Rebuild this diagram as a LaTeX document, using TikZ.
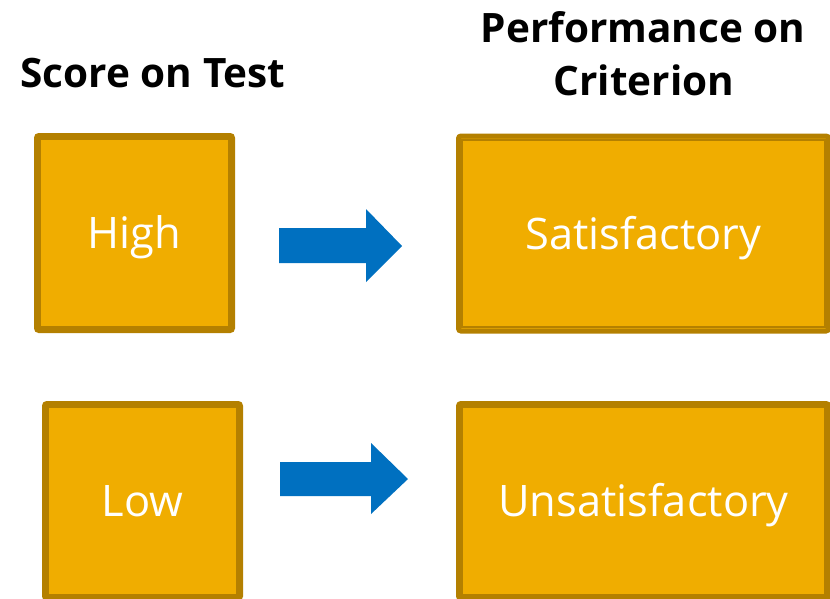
\documentclass[tikz,border=0pt]{standalone}
\usepackage{fontspec}
\setmainfont{Open Sans}
\usetikzlibrary{calc}
\definecolor{gfill}{RGB}{240,173,0}
\definecolor{gdark}{RGB}{180,128,0}
\definecolor{ablue}{RGB}{0,112,192}
\tikzset{
  gbox/.style={draw=gdark, line width=5pt, fill=gfill, rounded corners=2.5pt,
    inner sep=0pt, text=white, font=\fontsize{43.4}{50}\selectfont,
    text height=31pt, text depth=0pt, minimum height=195pt},
  innerline/.style={draw=gdark, line width=1.8pt},
  title/.style={anchor=base, inner sep=0pt, font=\fontsize{40.5}{46}\selectfont\bfseries, text=black},
  blockarrow/.style={fill=ablue, draw=none}
}
\begin{document}
\begin{tikzpicture}[x=1pt,y=-1pt]
\useasboundingbox[fill=white] (0,0) rectangle (830,598);
% titles
\node[title] (t1) at (153,87) {Score on Test};
\node[title] (t2a) at (643,42) {Performance on};
\node[title] (t2b) at (644,95) {Criterion};
% boxes
\node[gbox, minimum width=196pt] (hi) at (134.5,233) {High};
\node[gbox, minimum width=370pt] (sat) at (643.5,233.5) {Satisfactory};
\node[gbox, minimum width=196pt] (lo) at (142.5,501) {Low};
\node[gbox, minimum width=370pt] (unsat) at (643.5,501) {Unsatisfactory};
\foreach \n in {hi,sat,lo,unsat}
  \draw[innerline] ($(\n.north west)+(6.2,6.2)$) rectangle ($(\n.south east)+(-6.2,-6.2)$);
% arrows
\fill[blockarrow] (279,228) -- (366,228) -- (366,209) -- (402,246) -- (366,282) -- (366,263) -- (279,263) -- cycle;
\fill[blockarrow] (280,462) -- (371,462) -- (371,443) -- (408,479) -- (371,514) -- (371,496) -- (280,496) -- cycle;
\end{tikzpicture}
\end{document}
